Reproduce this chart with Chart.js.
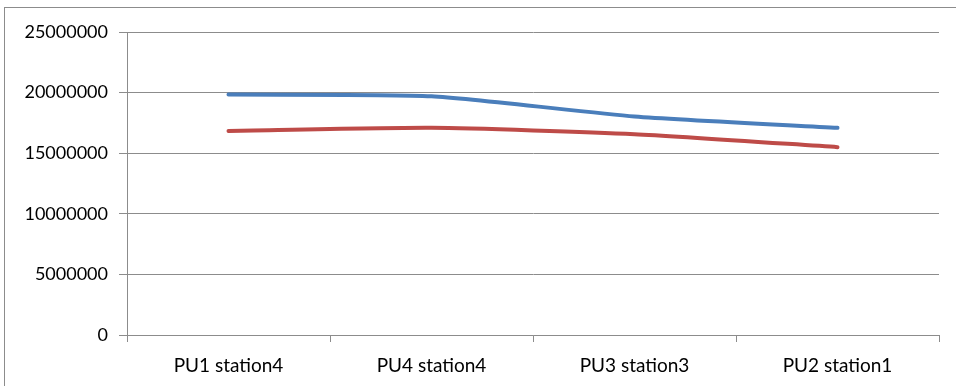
<!DOCTYPE html>
<html>
<head>
<meta charset="utf-8">
<script src="https://cdn.jsdelivr.net/npm/chart.js@4/dist/chart.umd.min.js"></script>
<style>
  html, body { margin: 0; padding: 0; background: #fff; }
  #frame {
    position: absolute; left: 4px; top: 7px; width: 1000px; height: 500px;
    border-left: 1px solid #8c8c8c; border-top: 1px solid #8c8c8c;
  }
  #wrap { position: absolute; left: 0; top: 0; width: 956px; height: 386px; }
</style>
</head>
<body>
<div id="frame"></div>
<div id="wrap"><canvas id="chart" width="956" height="386"></canvas></div>
<script>
// categories along the x axis
const categories = ["PU1 station4", "PU4 station4", "PU3 station3", "PU2 station1"];

// two series
const blueSeries = [19840000, 19700000, 18030000, 17090000];
const redSeries = [16840000, 17090000, 16570000, 15500000];

// y axis ticks
const yTicks = [0, 5000000, 10000000, 15000000, 20000000, 25000000];

const gridColor = '#8c8c8c';

new Chart(document.getElementById('chart'), {
  type: 'line',
  data: {
    labels: categories,
    datasets: [
      {
        label: 'Series1',
        data: blueSeries,
        borderColor: '#4a7ebb',
        borderWidth: 4,
        borderCapStyle: 'round',
        tension: 0.2,
        pointRadius: 0,
        fill: false
      },
      {
        label: 'Series2',
        data: redSeries,
        borderColor: '#be4b48',
        borderWidth: 4,
        borderCapStyle: 'round',
        tension: 0.2,
        pointRadius: 0,
        fill: false
      }
    ]
  },
  options: {
    responsive: false,
    animation: false,
    layout: { padding: { left: 0, right: 17, top: 32, bottom: 0 } },
    plugins: {
      legend: { display: false },
      tooltip: { enabled: false }
    },
    scales: {
      x: {
        offset: true,
        grid: {
          offset: true,
          drawOnChartArea: false,
          drawTicks: true,
          tickLength: 7,
          color: gridColor
        },
        border: { color: gridColor },
        ticks: {
          color: '#000',
          font: { family: 'Lato', size: 19 },
          padding: 12,
          maxRotation: 0
        },
        afterFit: (scale) => { scale.height = 51; }
      },
      y: {
        min: 0,
        max: 25000000,
        afterBuildTicks: (scale) => { scale.ticks = yTicks.map(v => ({ value: v })); },
        grid: {
          color: gridColor,
          tickLength: 8
        },
        border: { color: gridColor },
        ticks: {
          color: '#000',
          font: { family: 'Lato', size: 18 },
          padding: 11,
          callback: (v) => String(v)
        },
        afterFit: (scale) => { scale.width = 127; }
      }
    }
  }
});
</script>
</body>
</html>
